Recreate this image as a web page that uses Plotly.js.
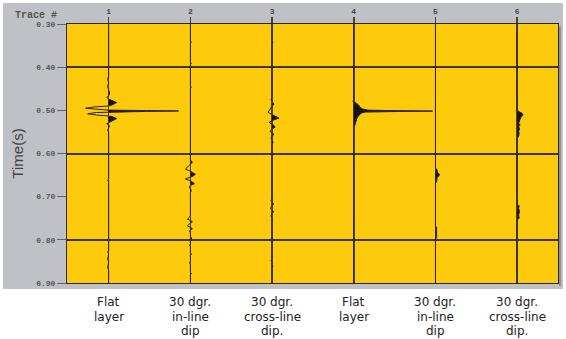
<!DOCTYPE html>
<html><head><meta charset="utf-8">
<script src="https://cdn.plot.ly/plotly-3.0.1.min.js"></script>
<style>html,body{margin:0;padding:0;background:#fff}#chart{width:566px;height:339px}</style>
</head><body><div id="chart"></div><script>
// ---- data ----
const TRACE_NUMS = [1, 2, 3, 4, 5, 6];
const LABELS = ['Flat<br>layer', '30 dgr.<br>in-line<br>dip', '30 dgr.<br>cross-line<br>dip.',
                'Flat<br>layer', '30 dgr.<br>in-line<br>dip', '30 dgr.<br>cross-line<br>dip.'];
const Y_TICKS = [0.30, 0.40, 0.50, 0.60, 0.70, 0.80, 0.90];
const GRID_TIMES = [0.40, 0.60, 0.80];

// trace 1: flat layer (time s, amplitude)
const T1 = [0.30,0.420,0.428,0.435,0.445,0.452,0.460,0.466,0.470,0.474,0.477,0.482,0.487,0.490,0.492,0.495,0.497,0.4995,0.5005,0.5015,0.5025,0.5035,0.505,0.508,0.511,0.513,0.515,0.519,0.524,0.528,0.531,0.534,0.537,0.540,0.546,0.550,0.660,0.662,0.665,0.825,0.828,0.832,0.845,0.850,0.865,0.870,0.90];
const A1 = [0,0,-1,0,-1,0,1,0,-2,0,3,8,4,0,-14,-23,-14,0,38,70,38,0,-12,-21,-12,0,4,8,4,0,-2,0,1,0,-1,0,0,-1,0,0,-1,0,-1,0,-1,0,0];
// trace 2: 30 dgr in-line dip
const T2 = [0.30,0.340,0.342,0.344,0.389,0.391,0.393,0.444,0.446,0.448,0.615,0.620,0.625,0.630,0.636,0.641,0.645,0.648,0.652,0.655,0.659,0.663,0.667,0.670,0.674,0.678,0.682,0.686,0.690,0.744,0.748,0.752,0.755,0.758,0.761,0.765,0.768,0.771,0.774,0.777,0.780,0.783,0.793,0.796,0.799,0.810,0.812,0.815,0.830,0.833,0.836,0.850,0.853,0.856,0.875,0.878,0.881,0.90];
const A2 = [0,0,1,0,0,1,0,0,1,0,0,2,0,-2,-5,0,3,5,3,0,-5,0,3,4,0,-1,0,1,0,0,-1,-3,0,2,0,-2,-3,0,2,0,-1,0,0,1.5,0,0,-1,0,0,1,0,0,-1,0,0,1,0,0];
// trace 3: 30 dgr cross-line dip
const T3 = [0.30,0.339,0.342,0.345,0.470,0.475,0.480,0.486,0.490,0.496,0.5045,0.510,0.514,0.518,0.522,0.524,0.528,0.532,0.535,0.539,0.543,0.549,0.552,0.556,0.559,0.565,0.568,0.575,0.578,0.705,0.709,0.713,0.717,0.721,0.727,0.731,0.735,0.739,0.745,0.749,0.845,0.848,0.851,0.860,0.862,0.865,0.90];
const A3 = [0,0,1,0,0,-1,0,2,0,-2,-4,0,4,7,2,0,-3,0,2,3,0,-2,0,2,0,-1,0,1,0,0,-1,0,1.5,0,-1.5,0,1.5,0,-1,0,0,-1,0,0,1,0,0];
// trace 4: flat layer (second display)
const T4 = [0.30,0.476,0.479,0.481,0.484,0.488,0.493,0.497,0.4995,0.5010,0.5018,0.5026,0.504,0.506,0.509,0.514,0.519,0.524,0.530,0.535,0.540,0.90];
const A4 = [0,0,-1,1,3,5,6,9,14,45,79,45,12,8,6,4,3,2.5,2,1,0,0];
// trace 5: 30 dgr in-line dip (second display)
const T5 = [0.30,0.634,0.637,0.644,0.648,0.652,0.656,0.666,0.668,0.768,0.771,0.795,0.798,0.90];
const A5 = [0,0,1.5,2,4,3.5,1.5,1.2,0,0,1.2,1.2,0,0];
// trace 6: 30 dgr cross-line dip (second display)
const T6 = [0.30,0.500,0.503,0.507,0.511,0.515,0.520,0.525,0.530,0.534,0.538,0.543,0.548,0.553,0.560,0.565,0.718,0.721,0.728,0.735,0.742,0.750,0.754,0.90];
const A6 = [0,0,2,5,6,4,3,2.5,1.5,3,1.5,2.5,1.5,2,1.5,0,0,2,1.5,2.5,1.5,2,0,0];

const SERIES = [[T1, A1], [T2, A2], [T3, A3], [T4, A4], [T5, A5], [T6, A6]];
const GAIN = 1 / 81.8;

// ---- traces ----
const data = [];
SERIES.forEach(([T, A], i) => {
  const k = TRACE_NUMS[i];
  data.push({x: T.map(() => k), y: T, mode: 'lines', line: {width: 0, color: 'rgba(0,0,0,0)'},
             hoverinfo: 'skip', showlegend: false});
  data.push({x: T.map((t, j) => k + Math.max(A[j], 0) * GAIN), y: T, mode: 'lines',
             line: {width: 0, color: 'rgba(0,0,0,0)'}, fill: 'tonextx', fillcolor: '#141414',
             hoverinfo: 'skip', showlegend: false});
  data.push({x: A.map(a => k + a * GAIN), y: T, mode: 'lines',
             line: {color: '#2b2410', width: 1}, showlegend: false});
});
data.push({x: [null], y: [null], yaxis: 'y2', mode: 'lines', showlegend: false, hoverinfo: 'skip'});

// ---- annotations ----
const annotations = [];
LABELS.forEach((lab, i) => {
  lab.split('<br>').forEach((line, j) => {
    annotations.push({x: TRACE_NUMS[i], xref: 'x', y: 0, yref: 'paper', yanchor: 'middle',
      yshift: -19 - 14.5 * j, text: line, showarrow: false,
      font: {family: 'DejaVu Sans', size: 12, color: '#222'}});
  });
});
annotations.push({x: -0.064, xref: 'paper', xanchor: 'center', y: 1, yref: 'paper', yshift: 9, yanchor: 'middle',
  text: 'Trace #', showarrow: false,
  font: {family: 'Liberation Mono', size: 10, color: '#555', weight: 'bold'}});

const white = {type: 'rect', xref: 'paper', yref: 'paper', fillcolor: '#ffffff', line: {width: 0}, layer: 'below'};
const layout = {
  width: 566, height: 339,
  margin: {l: 67, r: 8, t: 24, b: 56, pad: 0},
  paper_bgcolor: '#c0c1c6', plot_bgcolor: '#fecb0c',
  showlegend: false,
  xaxis: {range: [0.49, 6.5], side: 'top', tickvals: TRACE_NUMS, ticktext: TRACE_NUMS.map(String),
    tickfont: {family: 'Liberation Mono', size: 8, color: '#444', weight: 'bold'},
    ticks: 'outside', ticklen: 6, tickwidth: 1.5, tickcolor: '#524515',
    showgrid: true, gridcolor: '#524515', gridwidth: 1.5, zeroline: false,
    showline: true, mirror: true, linecolor: '#2a2a2a', linewidth: 1, fixedrange: true},
  yaxis: {range: [0.9, 0.3], tickvals: Y_TICKS, tickformat: '.2f',
    tickfont: {family: 'Liberation Mono', size: 8, color: '#555', weight: 'bold'},
    ticks: 'outside', ticklen: 9, tickwidth: 1, tickcolor: '#666',
    showgrid: false, zeroline: false, showline: true, mirror: true, linecolor: '#2a2a2a', linewidth: 1,
    title: {text: 'Time(s)', font: {family: 'Liberation Sans', size: 15, color: '#444'}, standoff: 8},
    fixedrange: true},
  yaxis2: {overlaying: 'y', range: [0.9, 0.3], tickvals: GRID_TIMES, showticklabels: false, ticks: '',
    showgrid: true, gridcolor: '#3b3522', gridwidth: 2, zeroline: false, showline: false, fixedrange: true},
  shapes: [
    Object.assign({}, white, {x0: -0.2, x1: 1.2, y0: -0.4, y1: -0.0232}),
    Object.assign({}, white, {x0: -0.2, x1: 1.2, y0: 1.0811, y1: 1.2}),
    Object.assign({}, white, {x0: -0.2, x1: -0.1303, y0: -0.4, y1: 1.2}),
    Object.assign({}, white, {x0: 1.0102, x1: 1.2, y0: -0.4, y1: 1.2}),
    {type: 'rect', xref: 'paper', yref: 'paper', x0: 1.002, x1: 1.006, y0: -0.012, y1: 0.99,
     fillcolor: '#8c8c90', line: {width: 0}, layer: 'below'}
  ],
  annotations: annotations
};
Plotly.newPlot('chart', data, layout, {displayModeBar: false, staticPlot: true});
</script></body></html>
